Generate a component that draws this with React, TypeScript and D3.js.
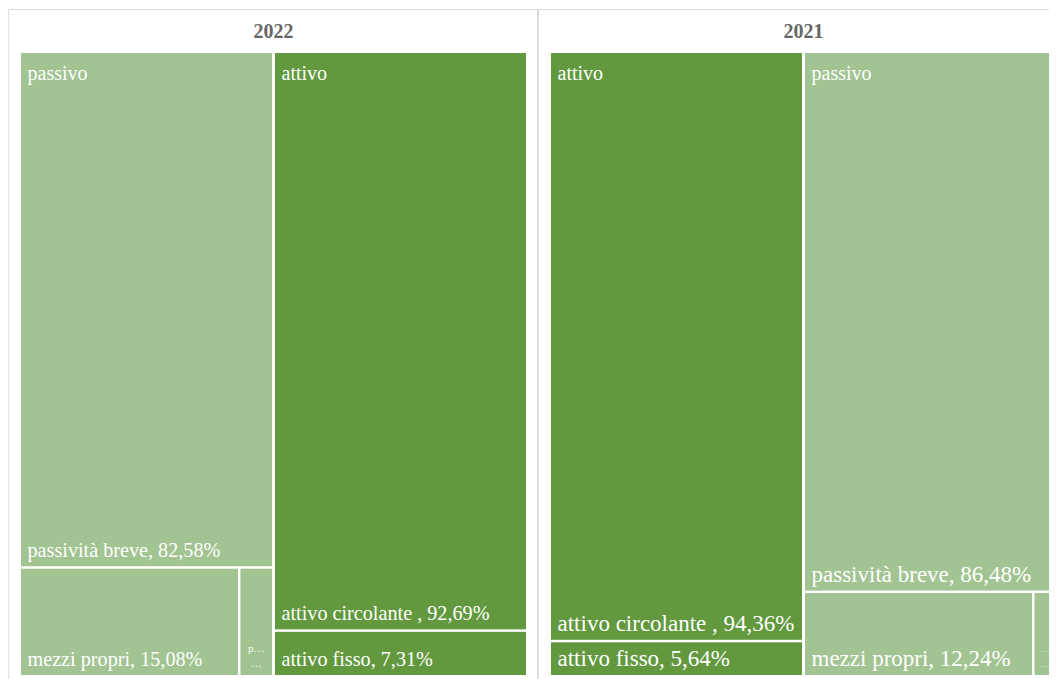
import React from "react";
import * as d3 from "d3";

// ---- data ----
const years = ["2022", "2021"];
const groupOrder2022 = ["passivo", "attivo"];
const groupOrder2021 = ["attivo", "passivo"];

const passivoNames = ["passività breve", "mezzi propri", "passività lunga"];
const passivo2022 = [82.58, 15.08, 2.34];
const passivo2021 = [86.48, 12.24, 1.28];

const attivoNames = ["attivo circolante ", "attivo fisso"];
const attivo2022 = [92.69, 7.31];
const attivo2021 = [94.36, 5.64];

const groupColors: Record<string, string> = {
  passivo: "#A2C493",
  attivo: "#62993E",
};

const leafFontSize: Record<string, number> = { "2022": 20.2, "2021": 23 };

type Leaf = { name: string; value: number };
type Group = { name: string; children: Leaf[] };

function buildGroup(name: string, year: string): Group {
  const names = name === "passivo" ? passivoNames : attivoNames;
  const vals =
    name === "passivo"
      ? year === "2022" ? passivo2022 : passivo2021
      : year === "2022" ? attivo2022 : attivo2021;
  return { name, children: names.map((n, i) => ({ name: n, value: vals[i] })) };
}

const W = 1057;
const H = 679;
const panelW = 530;
const frameX = 8;
const frameY = 9;
const FONT = "'Liberation Serif', 'Times New Roman', serif";

const fmt = (v: number) => v.toFixed(2).replace(".", ",");

function Panel({ year, index }: { year: string; index: number }) {
  const order = year === "2022" ? groupOrder2022 : groupOrder2021;
  const data = { name: year, children: order.map((g) => buildGroup(g, year)) };
  const root = d3
    .hierarchy<any>(data)
    .sum((d: any) => (d.children ? 0 : d.value));

  const tile = (node: any, x0: number, y0: number, x1: number, y1: number) => {
    if (node.depth === 0) d3.treemapDice(node, x0, y0, x1, y1);
    else d3.treemapSquarify(node, x0, y0, x1, y1);
  };

  const px0 = frameX + index * panelW;
  const tx0 = px0 + 13;
  const tx1 = px0 + 518;
  const ty0 = 53;
  const ty1 = 675;

  const layout = d3
    .treemap<any>()
    .tile(tile as any)
    .size([tx1 - tx0, ty1 - ty0])
    .paddingInner((n: any) => (n.depth === 0 ? 3 : 2.5));
  layout(root);

  const groups = (root.children || []) as any[];
  const leaves = root.leaves() as any[];
  const fs = leafFontSize[year];

  return (
    <g>
      <text
        x={(tx0 + tx1) / 2}
        y={38}
        textAnchor="middle"
        fontFamily={FONT}
        fontWeight="bold"
        fontSize={20}
        fill="#666666"
      >
        {year}
      </text>
      <g transform={`translate(${tx0},${ty0})`}>
        {leaves.map((l, i) => (
          <rect
            key={"r" + i}
            x={l.x0}
            y={l.y0}
            width={l.x1 - l.x0}
            height={l.y1 - l.y0}
            fill={groupColors[l.parent.data.name]}
          />
        ))}
        {leaves.map((l, i) => {
          const w = l.x1 - l.x0;
          const label = `${l.data.name}, ${fmt(l.data.value)}%`;
          if (w < 40) {
            const first = w > 25 ? l.data.name[0] + "…" : "…";
            return (
              <g key={"t" + i} fill="#ffffff" fontFamily={FONT} fontSize={w > 25 ? 11 : 8}>
                <text x={l.x0 + w / 2} y={l.y1 - 23} textAnchor="middle">{first}</text>
                <text x={l.x0 + w / 2} y={l.y1 - 8} textAnchor="middle">…</text>
              </g>
            );
          }
          return (
            <text
              key={"t" + i}
              x={l.x0 + 6.5}
              y={l.y1 - 9}
              fill="#ffffff"
              fontFamily={FONT}
              fontSize={fs}
            >
              {label}
            </text>
          );
        })}
        {groups.map((g, i) => (
          <text
            key={"g" + i}
            x={g.x0 + 6.5}
            y={g.y0 + 27}
            fill="#ffffff"
            fontFamily={FONT}
            fontSize={20}
          >
            {g.data.name}
          </text>
        ))}
      </g>
    </g>
  );
}

export default function App() {
  return (
    <svg
      width={W - 8}
      height={H - 8}
      style={{ display: "block", overflow: "hidden" }}
    >
      <g transform="translate(-8,-8)">
        <rect x={0} y={0} width={W + 20} height={H + 20} fill="#ffffff" />
        <rect
          x={frameX + 0.5}
          y={frameY + 0.5}
          width={panelW * 2}
          height={H + 20}
          fill="none"
          stroke="#e0e0e0"
          strokeWidth={1.2}
        />
        <line
          x1={frameX + panelW}
          x2={frameX + panelW}
          y1={frameY}
          y2={H + 20}
          stroke="#dcdcdc"
          strokeWidth={2}
        />
        {years.map((y, i) => (
          <Panel key={y} year={y} index={i} />
        ))}
      </g>
    </svg>
  );
}
